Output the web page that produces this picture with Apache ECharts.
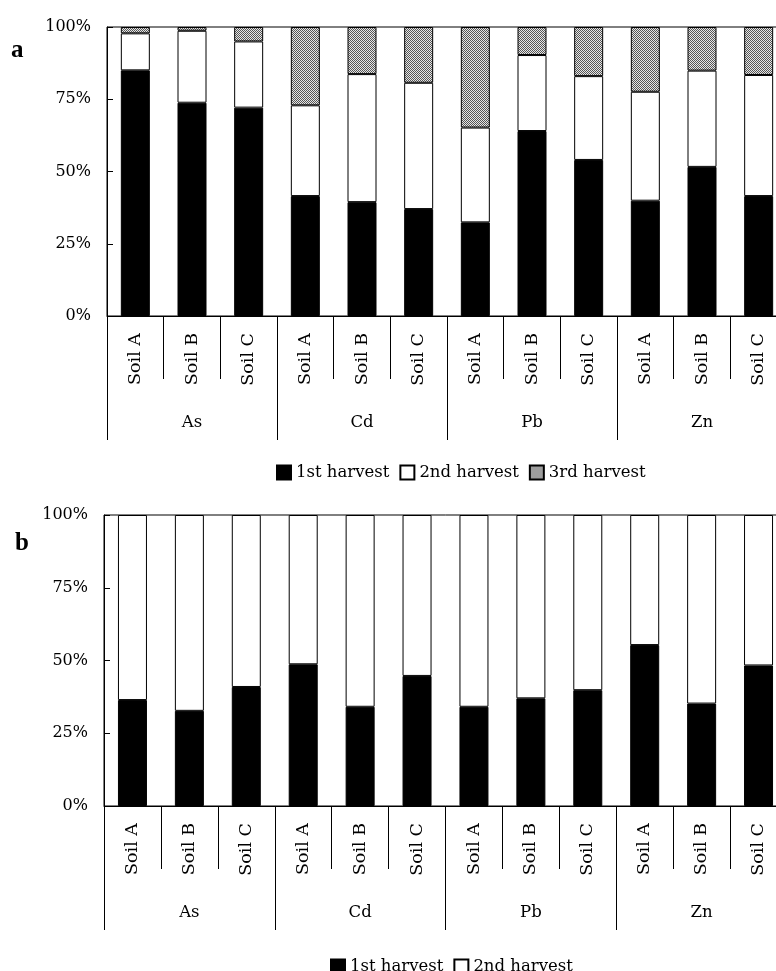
<!DOCTYPE html>
<html>
<head>
<meta charset="utf-8">
<script src="https://cdn.jsdelivr.net/npm/echarts@6/dist/echarts.min.js"></script>
<style>
html,body{margin:0;padding:0;background:#fff;overflow:hidden}
/* plot runs past the right edge of the page, as in the source figure */
#main{width:800px;height:971px}
</style>
</head>
<body>
<div id="main"></div>
<script>
var soils = ['Soil A','Soil B','Soil C','Soil A','Soil B','Soil C','Soil A','Soil B','Soil C','Soil A','Soil B','Soil C'];
var metals = ['As','Cd','Pb','Zn'];
var namesA = ['1st harvest','2nd harvest','3rd harvest'];
var namesB = ['1st harvest','2nd harvest'];

// panel a, % of total uptake per harvest
var harvest1A = [85.0,73.8,72.1,41.5,39.4,37.0,32.4,64.0,54.0,39.9,51.6,41.5];
var harvest2A = [12.8,24.9,22.9,31.4,44.3,43.7,32.8,26.3,29.0,37.7,33.3,41.9];
var harvest3A = [2.2,1.3,5.0,27.1,16.3,19.3,34.8,9.7,17.0,22.4,15.1,16.6];
// panel b
var harvest1B = [36.4,32.7,40.9,48.7,34.1,44.7,34.1,37.0,39.8,55.3,35.2,48.3];
var harvest2B = [63.6,67.3,59.1,51.3,65.9,55.3,65.9,63.0,60.2,44.7,64.8,51.7];

var serif = 'DejaVu Serif';

// dotted grey fill for 3rd harvest
var dots = document.createElement('canvas');
dots.width = 2; dots.height = 2;
var ctx = dots.getContext('2d');
ctx.fillStyle = '#e6e6e6'; ctx.fillRect(0,0,2,2);
ctx.fillStyle = '#555'; ctx.fillRect(0,0,1,1); ctx.fillRect(1,1,1,1);
var dotFill = {image: dots, repeat: 'repeat'};

var black = {color:'#000', width:1};

function soilAxis(g){
    return {
        gridIndex:g, type:'category', data:soils, position:'bottom',
        axisLine:{show:true, lineStyle:black},
        axisTick:{show:true, length:63, interval:0, lineStyle:black},
        axisLabel:{rotate:90, margin:17, interval:0, fontFamily:serif, fontSize:17.5, color:'#000'}
    };
}
function metalAxis(g){
    return {
        gridIndex:g, type:'category', data:metals, position:'bottom', offset:0,
        axisLine:{show:false},
        axisTick:{show:true, length:124, interval:0, lineStyle:black},
        axisLabel:{margin:98, interval:0, fontFamily:serif, fontSize:16.5, color:'#000'}
    };
}
function pctAxis(g){
    return {
        gridIndex:g, type:'value', min:0, max:100, interval:25,
        axisLine:{show:true, lineStyle:black},
        axisTick:{show:true, inside:true, length:6, lineStyle:black},
        splitLine:{show:false},
        axisLabel:{formatter:'{value}%', margin:16, fontFamily:serif, fontSize:16, color:'#000'}
    };
}
function bar(name, data, fill, x, y, stack){
    return {
        name:name, type:'bar', stack:stack, xAxisIndex:x, yAxisIndex:y,
        barWidth:29, data:data,
        itemStyle:{color:fill, borderColor:'#000', borderWidth:1}
    };
}
function legendAt(names, left, top){
    return {
        data:names, left:left, top:top, icon:'rect',
        itemWidth:14, itemHeight:14, itemGap:10, selectedMode:false,
        textStyle:{fontFamily:serif, fontSize:16.5, color:'#000'}
    };
}

var myChart = echarts.init(document.getElementById('main'));
myChart.setOption({
    animation:false,
    backgroundColor:'#fff',
    graphic:[
        {type:'text', left:11, top:38, style:{text:'a', font:'bold 25px "Liberation Serif"', fill:'#000'}},
        {type:'text', left:15, top:531, style:{text:'b', font:'bold 25px "Liberation Serif"', fill:'#000'}}
    ],
    grid:[
        {left:107, top:27, width:680, height:289, show:true, borderColor:'#000', borderWidth:1},
        {left:104, top:515, width:683, height:291, show:true, borderColor:'#000', borderWidth:1}
    ],
    legend:[legendAt(namesA, 271, 459), legendAt(namesB, 325, 953)],
    xAxis:[soilAxis(0), metalAxis(0), soilAxis(1), metalAxis(1)],
    yAxis:[pctAxis(0), pctAxis(1)],
    series:[
        bar(namesA[0], harvest1A, '#000', 0, 0, 'a'),
        bar(namesA[1], harvest2A, '#fff', 0, 0, 'a'),
        bar(namesA[2], harvest3A, dotFill, 0, 0, 'a'),
        bar(namesB[0], harvest1B, '#000', 2, 1, 'b'),
        bar(namesB[1], harvest2B, '#fff', 2, 1, 'b')
    ]
});
</script>
</body>
</html>
